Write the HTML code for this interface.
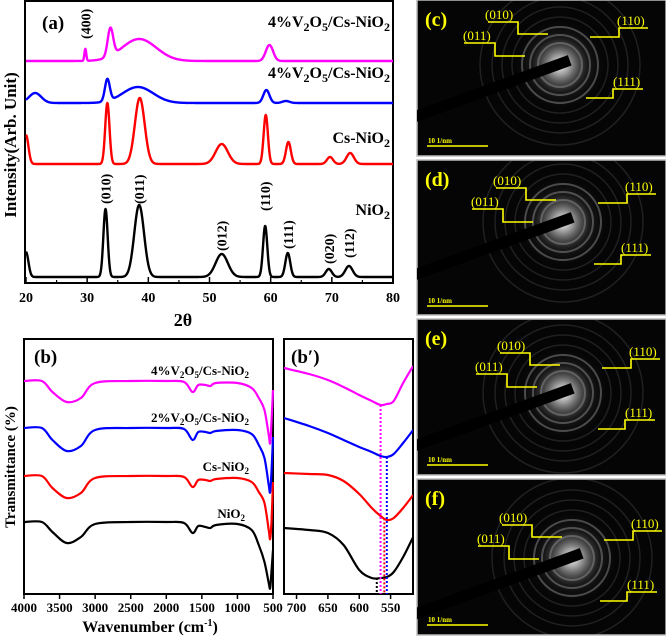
<!DOCTYPE html>
<html><head><meta charset="utf-8"><style>
html,body{margin:0;padding:0;background:#fff;}
svg{display:block;font-family:"Liberation Serif",serif;font-weight:bold;}
</style></head><body>
<svg id="fig" width="666" height="638" viewBox="0 0 666 638" xmlns="http://www.w3.org/2000/svg">
<defs>
<radialGradient id="glow"><stop offset="0" stop-color="#fff" stop-opacity="1"/><stop offset="0.2" stop-color="#ccc" stop-opacity="0.75"/><stop offset="0.55" stop-color="#555" stop-opacity="0.25"/><stop offset="1" stop-color="#000" stop-opacity="0"/></radialGradient>
</defs>
<g id="pa">
<rect x="25" y="1" width="368" height="282" fill="none" stroke="#000" stroke-width="2"/>
<text x="42" y="29" font-size="19">(a)</text>
<text transform="translate(16,145) rotate(-90)" text-anchor="middle" font-size="17">Intensity(Arb. Unit)</text>
<text x="183" y="326" text-anchor="middle" font-size="18">2θ</text>
<text x="390" y="27" text-anchor="end" font-size="16" fill="#000">4%V<tspan font-size="12" dy="4">2</tspan><tspan dy="-4">O</tspan><tspan font-size="12" dy="4">5</tspan><tspan dy="-4">/Cs-NiO</tspan><tspan font-size="12" dy="4">2</tspan></text>
<text x="390" y="78" text-anchor="end" font-size="16">4%V<tspan font-size="12" dy="4">2</tspan><tspan dy="-4">O</tspan><tspan font-size="12" dy="4">5</tspan><tspan dy="-4">/Cs-NiO</tspan><tspan font-size="12" dy="4">2</tspan></text>
<text x="390" y="143" text-anchor="end" font-size="16">Cs-NiO<tspan font-size="12" dy="4">2</tspan></text>
<text x="390" y="215" text-anchor="end" font-size="16">NiO<tspan font-size="12" dy="4">2</tspan></text>
</g>
<g id="pb">
<rect x="24" y="339" width="249" height="255" fill="none" stroke="#000" stroke-width="2"/>
<rect x="284" y="339" width="129" height="255" fill="none" stroke="#000" stroke-width="2"/>
<text x="34" y="363" font-size="19">(b)</text>
<text x="291" y="363" font-size="19">(b′)</text>
<text transform="translate(15,467) rotate(-90)" text-anchor="middle" font-size="15">Transmittance (%)</text>
<text x="150" y="632" text-anchor="middle" font-size="16">Wavenumber (cm<tspan font-size="10" dy="-6">-1</tspan><tspan dy="6">)</tspan></text>
<text x="249" y="375" text-anchor="end" font-size="13">4%V<tspan font-size="9" dy="3">2</tspan><tspan dy="-3">O</tspan><tspan font-size="9" dy="3">5</tspan><tspan dy="-3">/Cs-NiO</tspan><tspan font-size="9" dy="3">2</tspan></text>
<text x="249" y="422" text-anchor="end" font-size="13">2%V<tspan font-size="9" dy="3">2</tspan><tspan dy="-3">O</tspan><tspan font-size="9" dy="3">5</tspan><tspan dy="-3">/Cs-NiO</tspan><tspan font-size="9" dy="3">2</tspan></text>
<text x="249" y="471" text-anchor="end" font-size="13">Cs-NiO<tspan font-size="9" dy="3">2</tspan></text>
<text x="245" y="518" text-anchor="end" font-size="13">NiO<tspan font-size="9" dy="3">2</tspan></text>
</g>
<g id="pr"></g>
</svg>
<script>
// ---------- XRD data (panel a) ----------
const xrdSeries = ['NiO2','Cs-NiO2','2%V2O5/Cs-NiO2','4%V2O5/Cs-NiO2'];
const xrdColors = ['#000','#f00','#00f','#f0f'];
const xrdBaselines = [6,119,180,222];
const nioCenters = [20,33.0,38.5,52.0,59.1,62.8,69.5,72.8];
const nioHeights = [25,68,72,23,51,24,8,11];
const nioWidths  = [0.4,0.35,0.8,1.0,0.35,0.4,0.5,0.6];
const csCenters = [20,33.3,38.6,52.0,59.2,62.9,69.7,73.0];
const csHeights = [29,61,66,20,49,22,7,11];
const csWidths  = [0.4,0.35,0.8,1.0,0.35,0.4,0.5,0.6];
const v2Centers = [21.5,33.3,38.3,59.3,62.5];
const v2Heights = [10,22,16,13,2];
const v2Widths  = [1.0,0.4,2.5,0.5,0.6];
const v4Centers = [29.7,33.8,38.5,59.8];
const v4Heights = [12,28,22,16];
const v4Widths  = [0.15,0.45,2.8,0.6];
const xrdTicks = [20,30,40,50,60,70,80];
const hklLabels = ['(400)','(010)','(011)','(012)','(110)','(111)','(020)','(112)'];
const hklPos = [29.7,33.0,38.5,52.0,59.1,62.8,69.5,72.8];
const hklTop = [3,168,168,215,175,213,228,222];

// ---------- FTIR data (panel b) ----------
const ftirSeries = ['NiO2','Cs-NiO2','2%V2O5/Cs-NiO2','4%V2O5/Cs-NiO2'];
const ftirWn = [4000,3750,3600,3400,3200,3000,2500,2000,1750,1630,1550,1450,1380,1300,1000,800,700,620,560,540,520,500];
const ftirNiO = [72,72,62,51,57,70,72,72,71,61,68,67,66,69,70,64,49,32,11,6,24,44];
const ftirCs  = [118,118,106,96,101,116,118,118,117,107,114,114,113,115,116,112,102,91,64,55,74,112];
const ftirV2  = [166,166,154,143,148,164,166,166,165,154,162,162,161,163,164,160,149,136,109,102,124,157];
const ftirV4  = [213,213,202,192,196,211,213,213,212,202,209,209,208,211,211,206,196,184,159,151,174,204];
const ftirTicks = [4000,3500,3000,2500,2000,1500,1000,500];
// zoom (b')
const zoomWn = [720,680,650,625,600,580,566,556,545,530,514];
const zoomNiO = [66,64,61,49,24,16,16,17,22,37,57];
const zoomCs  = [121,120,119,113,100,86,78,74,76,86,99];
const zoomV2  = [176,168,161,154,147,142,138,137,140,151,164];
const zoomV4  = [226,220,214,207,199,193,189,190,193,211,228];
const zoomMinWn = [572,560,556,566];
const zoomTicks = [700,650,600,550];

const NS='http://www.w3.org/2000/svg';
function mk(tag,attrs,parent){const e=document.createElementNS(NS,tag);for(const k in attrs)e.setAttribute(k,attrs[k]);parent.appendChild(e);return e;}
const svg=document.getElementById('fig');
const pa=document.getElementById('pa'), pb=document.getElementById('pb'), pr=document.getElementById('pr');

const xa=t=>26+(t-20)*(367/60);
const ya=v=>283-v;
const xb=w=>24+(4000-w)*(249/3500);
const yb=v=>594-v;
const xz=w=>284+(720-w)*0.627;

const peakSets=[[nioCenters,nioHeights,nioWidths],[csCenters,csHeights,csWidths],[v2Centers,v2Heights,v2Widths],[v4Centers,v4Heights,v4Widths]];
peakSets.forEach((ps,i)=>{
  let d='';
  for(let t=20;t<=80.001;t+=0.05){
    let v=xrdBaselines[i];
    for(let k=0;k<ps[0].length;k++){const z=(t-ps[0][k])/ps[2][k];v+=ps[1][k]*Math.exp(-0.5*z*z);}
    d+=(d?'L':'M')+xa(t).toFixed(2)+','+ya(v).toFixed(2);
  }
  const p=mk('path',{d:d,fill:'none',stroke:xrdColors[i],'stroke-width':2.4,'stroke-linejoin':'round'},pa);
  
  
});
xrdTicks.forEach(t=>{
  const l=mk('line',{x1:xa(t),x2:xa(t),y1:283,y2:277,stroke:'#000','stroke-width':1.5},pa);
  
  
  const tx=mk('text',{x:xa(t),y:302,'text-anchor':'middle','font-size':14},pa);
  tx.textContent=t;
  
  
});
for(let t=25;t<80;t+=10){const l=mk('line',{x1:xa(t),x2:xa(t),y1:283,y2:280,stroke:'#000','stroke-width':1.2},pa);
  
  }
hklLabels.forEach((s,i)=>{
  const tx=mk('text',{transform:'translate('+(xa(hklPos[i])+5)+','+(hklTop[i]+36)+') rotate(-90)','font-size':14},pa);
  tx.textContent=s;
  
  
});

function smooth(pts){let d='M'+pts[0][0]+','+pts[0][1];for(let i=0;i<pts.length-1;i++){const p0=pts[i-1]||pts[i],p1=pts[i],p2=pts[i+1],p3=pts[i+2]||p2;
  d+='C'+(p1[0]+(p2[0]-p0[0])/6).toFixed(2)+','+(p1[1]+(p2[1]-p0[1])/6).toFixed(2)+' '+(p2[0]-(p3[0]-p1[0])/6).toFixed(2)+','+(p2[1]-(p3[1]-p1[1])/6).toFixed(2)+' '+p2[0].toFixed(2)+','+p2[1].toFixed(2);}return d;}

const ftirData=[ftirNiO,ftirCs,ftirV2,ftirV4];
ftirData.forEach((arr,i)=>{
  const p=mk('path',{d:smooth(ftirWn.map((w,k)=>[xb(w),yb(arr[k])])),fill:'none',stroke:xrdColors[i],'stroke-width':2.2},pb);
  
  
});
ftirTicks.forEach(w=>{
  const l=mk('line',{x1:xb(w),x2:xb(w),y1:594,y2:599,stroke:'#000','stroke-width':1.5},pb);
  
  
  const tx=mk('text',{x:xb(w),y:612,'text-anchor':'middle','font-size':13},pb);
  tx.textContent=w;
  
  
});
const clip=mk('clipPath',{id:'zc'},svg);mk('rect',{x:284,y:339,width:129,height:255},clip);
const zg=mk('g',{'clip-path':'url(#zc)'},pb);
const zoomData=[zoomNiO,zoomCs,zoomV2,zoomV4];
zoomData.forEach((arr,i)=>{
  const p=mk('path',{d:smooth(zoomWn.map((w,k)=>[xz(w),yb(arr[k])])),fill:'none',stroke:xrdColors[i],'stroke-width':2.2},zg);
  
  
  const wm=zoomMinWn[i];
  let j=0;while(j<zoomWn.length-1&&zoomWn[j+1]>wm)j++;
  const f=(zoomWn[j]-wm)/(zoomWn[j]-zoomWn[j+1]);const tv=arr[j]+(arr[j+1]-arr[j])*f;
  const l=mk('line',{x1:xz(wm),x2:xz(wm),y1:yb(tv),y2:594,stroke:xrdColors[i],'stroke-width':2,'stroke-dasharray':'2,2'},zg);
  
  
});
zoomTicks.forEach(w=>{
  const l=mk('line',{x1:xz(w),x2:xz(w),y1:594,y2:599,stroke:'#000','stroke-width':1.5},pb);
  
  
  const tx=mk('text',{x:xz(w),y:612,'text-anchor':'middle','font-size':13},pb);
  tx.textContent=w;
  
  
});

// ---------- SAED panels ----------
const panels=[{n:'c',top:0,h:156,cx:560,cy:65,dx:0,dy:0},{n:'d',top:160,h:155,cx:563,cy:222,dx:8,dy:6},{n:'e',top:319,h:156,cx:563,cy:393,dx:12,dy:12},{n:'f',top:479,h:156,cx:572,cy:558,dx:14,dy:24}];
panels.forEach(P=>{
  const g=mk('g',{},pr);
  
  
  mk('rect',{x:417,y:P.top,width:249,height:P.h,fill:'#050505',stroke:'#bbb','stroke-width':1.5},g);
  const cp=mk('clipPath',{id:'cp'+P.n},svg);mk('rect',{x:417,y:P.top,width:249,height:P.h},cp);
  const ig=mk('g',{'clip-path':'url(#cp'+P.n+')'},g);
  mk('circle',{cx:P.cx,cy:P.cy,r:50,fill:'url(#glow)'},ig);
  [22,30,38,48,58,68,80].forEach((r,k)=>mk('circle',{cx:P.cx,cy:P.cy,r:r,fill:'none',stroke:'#999','stroke-opacity':k<3?0.45:0.18,'stroke-width':k<3?2:1.5},ig));
  mk('rect',{x:-175,y:-5.5,width:180,height:11,fill:'#000',transform:'translate('+(P.cx+5)+','+(P.cy-3)+') rotate(-20)'},ig);
  const X=417+P.dx, Y=P.top+P.dy;
  const yl='#ffff00';
  const lab=mk('text',{x:425,y:P.top+26,'font-size':20,fill:yl},g);lab.textContent='('+P.n+')';
  
  
  const lines=[[[71,22],[101,22],[101,34],[131,34]],[[47,43],[78,43],[78,56],[108,56]],[[173,37],[202,37],[202,28],[231,28]],[[169,98],[196,98],[196,89],[226,89]]];
  const names=['(010)','(011)','(110)','(111)'];
  const lp=[[68,19],[46,40],[200,25],[196,86]];
  lines.forEach((ln,k)=>{
    const pl=mk('polyline',{points:ln.map(p=>(X+p[0])+','+(Y+p[1])).join(' '),fill:'none',stroke:yl,'stroke-width':1.6},g);
    
    
    const t=mk('text',{x:X+lp[k][0],y:Y+lp[k][1],'font-size':13,'font-weight':'normal',fill:yl},g);t.textContent=names[k];
    
    
  });
  const sb=mk('line',{x1:427,x2:488,y1:P.top+146,y2:P.top+146,stroke:yl,'stroke-width':1.6},g);
  
  
  const st=mk('text',{x:428,y:P.top+143,'font-size':7,fill:yl},g);st.textContent='10 1/nm';
  
  
});
</script>
</body></html>
